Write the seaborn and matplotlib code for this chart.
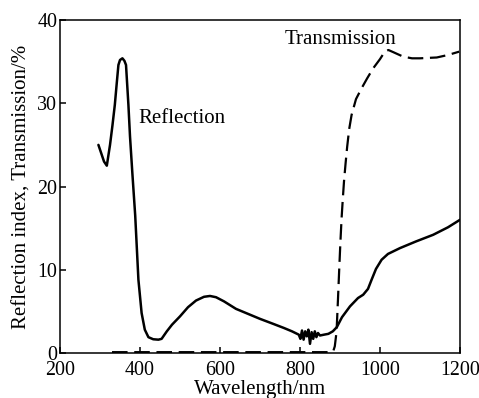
import numpy as np
import pandas as pd
import matplotlib
matplotlib.use("Agg")
import matplotlib.pyplot as plt
import seaborn as sns

# Reflection curve (wavelength nm, %)
refl_wl = [296, 303, 310, 317, 325, 331, 337, 342, 346, 350, 356, 361, 365, 371, 375, 381,
           388, 396, 404, 412, 421, 433, 446, 454, 467, 480, 500, 520, 540, 560, 575,
           590, 610, 640, 675, 700, 733, 760, 780, 797, 801, 805, 809, 813, 817, 821,
           825, 829, 833, 837, 841, 845, 850, 860, 871, 882, 892, 905, 925, 945, 958,
           970, 979, 990, 1004, 1020, 1050, 1090, 1133, 1170, 1200]
refl_val = [25.0, 24.0, 23.0, 22.5, 25.0, 27.3, 29.8, 32.5, 34.6, 35.2, 35.4, 35.1, 34.6,
            29.8, 26.0, 21.5, 16.5, 8.8, 4.8, 2.8, 1.9, 1.65, 1.6, 1.7, 2.6, 3.4, 4.4,
            5.5, 6.3, 6.75, 6.85, 6.7, 6.2, 5.3, 4.6, 4.1, 3.5, 3.0, 2.6, 2.2, 1.7, 2.7,
            1.6, 2.6, 2.0, 2.8, 1.1, 2.5, 1.7, 2.6, 1.9, 2.4, 2.1, 2.2, 2.3, 2.6, 3.1,
            4.3, 5.6, 6.6, 7.0, 7.7, 8.8, 10.1, 11.2, 11.9, 12.6, 13.4, 14.2, 15.1, 16.0]

# Transmission curve (wavelength nm, %)
trans_wl = [330, 400, 500, 600, 700, 800, 870, 883, 887, 890, 892, 895, 898, 901, 904,
            907, 910, 914, 918, 923, 929, 940, 954, 968, 983, 1000, 1012, 1021, 1035,
            1058, 1080, 1100, 1142, 1170, 1198]
trans_val = [0.1, 0.1, 0.1, 0.1, 0.1, 0.1, 0.1, 0.2, 0.8, 2.0, 3.2, 6.5, 10.0, 13.3, 16.2,
             18.5, 20.6, 22.8, 24.8, 26.9, 28.6, 30.5, 31.8, 33.0, 34.2, 35.3, 36.2, 36.4,
             36.1, 35.6, 35.4, 35.4, 35.5, 35.8, 36.2]

x_ticks = [200, 400, 600, 800, 1000, 1200]
y_ticks = [0, 10, 20, 30, 40]

sns.set_theme(style="ticks")
plt.rcParams['font.family'] = ['Liberation Serif', 'DejaVu Serif']

fig = plt.figure(figsize=(4.79, 3.98), dpi=100)
ax = fig.add_axes([0.1253, 0.1131, 0.835, 0.8366])

refl = pd.DataFrame({"wl": refl_wl, "val": refl_val})
trans = pd.DataFrame({"wl": trans_wl, "val": trans_val})

sns.lineplot(data=refl, x="wl", y="val", ax=ax, color="black", linewidth=1.8,
             sort=False, estimator=None)
sns.lineplot(data=trans, x="wl", y="val", ax=ax, color="black", linewidth=1.6,
             sort=False, estimator=None)
ax.lines[-1].set_dashes([7, 3])

ax.set_xlim(200, 1200)
ax.set_ylim(0, 40)
ax.set_xticks(x_ticks)
ax.set_yticks(y_ticks)
ax.tick_params(direction="in", length=4, width=1.1, labelsize=14.4, color="black",
               labelcolor="black")
ax.tick_params(axis="y", pad=2)
ax.tick_params(axis="x", pad=6)
for s in ax.spines.values():
    s.set_visible(True)
    s.set_linewidth(1.1)
    s.set_color("black")

ax.set_xlabel("Wavelength/nm", fontsize=15, labelpad=0, color="black")
ax.set_ylabel("Reflection index, Transmission/%", fontsize=15, labelpad=4, color="black")

ax.text(397, 28.2, "Reflection", fontsize=15, ha="left", va="center", color="black")
ax.text(762, 37.6, "Transmission", fontsize=15, ha="left", va="center", color="black")

fig.savefig("out.png", dpi=100, facecolor="white")
